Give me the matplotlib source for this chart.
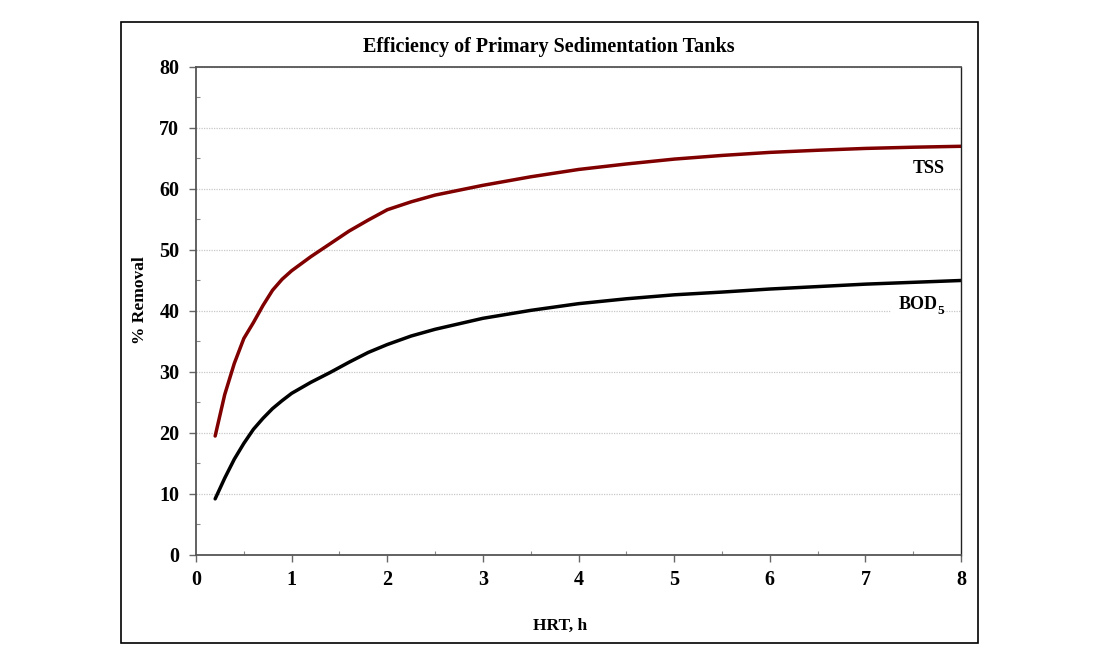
import matplotlib
matplotlib.use('Agg')
import matplotlib.pyplot as plt
from matplotlib.patches import Rectangle
from matplotlib.ticker import MultipleLocator

# HRT (h) and % removal
hrt = [0.2, 0.3, 0.4, 0.5, 0.6, 0.7, 0.8, 0.9, 1.0, 1.2, 1.4, 1.6, 1.8, 2.0, 2.25, 2.5, 2.75,
       3.0, 3.5, 4.0, 4.5, 5.0, 5.5, 6.0, 6.5, 7.0, 7.5, 8.0]
tss = [19.5, 26.3, 31.4, 35.5, 38.1, 40.9, 43.4, 45.2, 46.6, 48.9, 51.0, 53.1, 54.9, 56.6, 57.9,
       59.0, 59.8, 60.6, 62.0, 63.2, 64.1, 64.9, 65.5, 66.0, 66.35, 66.65, 66.85, 67.0]
bod = [9.2, 12.6, 15.7, 18.3, 20.6, 22.4, 24.0, 25.3, 26.5, 28.3, 29.9, 31.6, 33.2, 34.5, 35.9,
       37.0, 37.9, 38.8, 40.1, 41.2, 42.0, 42.65, 43.1, 43.6, 44.0, 44.4, 44.7, 45.0]

plt.rcParams['font.family'] = ['Liberation Serif', 'DejaVu Serif']
plt.rcParams['font.weight'] = 'bold'

fig = plt.figure(figsize=(10.97, 6.64), dpi=100)

# outer chart frame
fig.patches.append(Rectangle((0.1103, 0.0316), 0.7816, 0.9354, transform=fig.transFigure,
                             fill=False, edgecolor='black', linewidth=1.2))

ax = fig.add_axes([0.1787, 0.1642, 0.6974, 0.7349])

ax.plot(hrt, tss, color='#800000', linewidth=2.5, solid_capstyle='round', solid_joinstyle='round')
ax.plot(hrt, bod, color='black', linewidth=2.5, solid_capstyle='round', solid_joinstyle='round')

ax.set_xlim(0, 8)
ax.set_ylim(0, 80)
ax.xaxis.set_major_locator(MultipleLocator(1))
ax.xaxis.set_minor_locator(MultipleLocator(0.5))
ax.yaxis.set_major_locator(MultipleLocator(10))
ax.yaxis.set_minor_locator(MultipleLocator(5))

ax.grid(True, which='major', axis='y', color='#c8c8c8', linewidth=0.9, linestyle=(0, (1, 1)))
ax.set_axisbelow(True)

ax.tick_params(which='major', direction='out', length=5, width=1, color='#666666',
               labelsize=14.5)
ax.tick_params(axis='y', which='major', pad=7)
ax.tick_params(axis='x', which='major', pad=6)
ax.tick_params(which='minor', direction='in', length=3, width=0.8, color='#888888')
for lbl in ax.get_xticklabels() + ax.get_yticklabels():
    lbl.set_fontweight('bold')

for s in ax.spines.values():
    s.set_color('#555555')
    s.set_linewidth(1.3)
ax.spines['right'].set_color('#222222')
ax.spines['right'].set_linewidth(1.0)

# series labels
ax.text(7.66, 63.4, 'TSS', ha='center', va='center', fontsize=13, fontweight='bold',
        bbox=dict(facecolor='white', edgecolor='none', pad=2))
ax.text(7.75, 41.0, 'BOD', ha='right', va='center', fontsize=13, fontweight='bold',
        bbox=dict(facecolor='white', edgecolor='none', pad=5), zorder=3)
ax.annotate('5', xy=(7.75, 41.0), xytext=(0.2, -4.5), textcoords='offset points',
            ha='left', va='center', fontsize=9.5, fontweight='bold', zorder=4,
            bbox=dict(facecolor='white', edgecolor='none', pad=0.2))

fig.text(0.5005, 0.929, 'Efficiency of Primary Sedimentation Tanks', ha='center', va='center',
         fontsize=14.5, fontweight='bold')
fig.text(0.5105, 0.0572, 'HRT, h', ha='center', va='center', fontsize=12.5, fontweight='bold')
fig.text(0.1276, 0.548, '% Removal', ha='center', va='center', rotation=90,
         fontsize=12.5, fontweight='bold')

fig.savefig('out.png', dpi=100)
